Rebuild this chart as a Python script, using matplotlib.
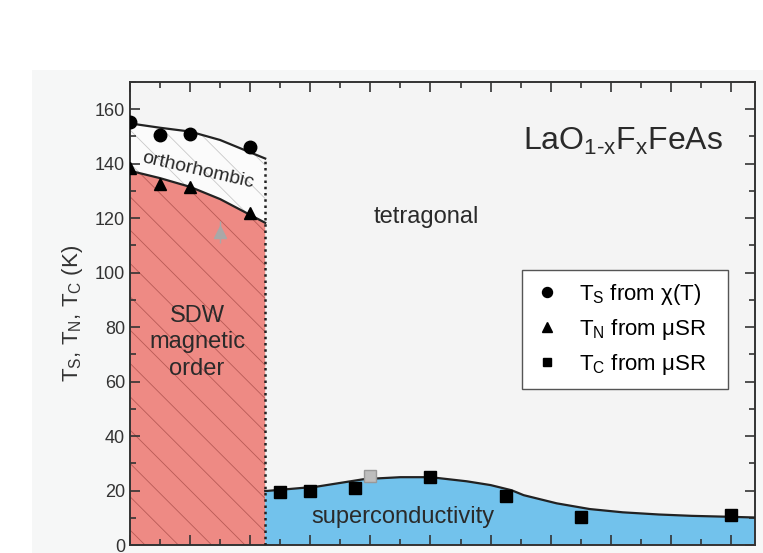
import matplotlib.pyplot as plt
from matplotlib.patches import Rectangle
from matplotlib.ticker import MultipleLocator

plt.rcParams['font.family'] = ['Liberation Sans', 'DejaVu Sans']
plt.rcParams['mathtext.fontset'] = 'custom'
plt.rcParams['mathtext.rm'] = 'Liberation Sans'
plt.rcParams['mathtext.it'] = 'Liberation Sans'
plt.rcParams['mathtext.default'] = 'regular'
plt.rcParams['hatch.linewidth'] = 0.6

# measured points
ts_x = [0.0, 0.01, 0.02, 0.04]
ts_T = [155.3, 150.5, 151.0, 146.0]
tn_x = [0.0, 0.01, 0.02, 0.04]
tn_T = [138.6, 132.7, 131.5, 122.0]
tn_gray_x = [0.03]
tn_gray_T = [115.0]
tn_gray_err = [4.0]
tc_x = [0.05, 0.06, 0.075, 0.10, 0.125, 0.15, 0.20]
tc_T = [19.5, 19.8, 20.8, 25.0, 18.1, 10.1, 11.0]
tc_gray_x = [0.08]
tc_gray_T = [25.3]

# phase boundary lines
ts_line_x = [0.0, 0.01, 0.02, 0.03, 0.045]
ts_line_T = [154.8, 153.2, 151.8, 148.7, 141.9]
tn_line_x = [0.0, 0.01, 0.02, 0.03, 0.045]
tn_line_T = [137.4, 134.7, 131.5, 127.0, 118.3]
tc_line_x = [0.045, 0.062, 0.078, 0.090, 0.100, 0.112, 0.120, 0.127, 0.131,
             0.142, 0.153, 0.164, 0.176, 0.187, 0.198, 0.208]
tc_line_T = [19.8, 21.4, 24.2, 24.9, 24.9, 23.4, 22.0, 20.1, 18.3,
             15.3, 13.2, 12.0, 11.2, 10.7, 10.4, 10.1]
x_border = 0.045

fig = plt.figure(figsize=(7.63, 5.53), dpi=100)
fig.patches.append(Rectangle((32 / 763, 0), 1, 1 - 70 / 553, transform=fig.transFigure,
                             facecolor='#f6f7f7', edgecolor='none', zorder=-10))
ax = fig.add_axes([130 / 763, 8 / 553, 625 / 763, 463 / 553])
ax.set_facecolor('#f4f4f4')

# SDW region
ax.fill_between(tn_line_x, 0, tn_line_T, facecolor='#ee8a84', edgecolor='#b85a56',
                hatch='\\', linewidth=0, zorder=1)
# orthorhombic region
ax.fill_between(ts_line_x, tn_line_T, ts_line_T, facecolor='#fbfbfb', edgecolor='#c8c8c8',
                hatch='\\', linewidth=0, zorder=1)
# superconducting region
ax.fill_between(tc_line_x, 0, tc_line_T, facecolor='#72c2ec', edgecolor='none', zorder=1)

ax.plot(ts_line_x, ts_line_T, color='#222222', lw=1.6, zorder=3)
ax.plot(tn_line_x, tn_line_T, color='#222222', lw=1.6, zorder=3)
ax.plot(tc_line_x, tc_line_T, color='#222222', lw=1.6, zorder=3)
ax.plot([x_border, x_border], [0, ts_line_T[-1]], color='#222222', lw=1.8,
        ls=(0, (1, 1.5)), zorder=3)

ax.plot(ts_x, ts_T, 'o', color='black', ms=9, ls='none', zorder=4, label=r'T$_S$ from χ(T)')
ax.plot(tn_x, tn_T, '^', color='black', ms=9, ls='none', zorder=4, label=r'T$_N$ from μSR')
ax.plot(tc_x, tc_T, 's', color='black', ms=8, ls='none', zorder=4, label=r'T$_C$ from μSR')
ax.errorbar(tn_gray_x, tn_gray_T, yerr=tn_gray_err, fmt='^', color='#a8a8a8', ms=9,
            elinewidth=1, capsize=0, zorder=4)
ax.plot(tc_gray_x, tc_gray_T, 's', mfc='#bdbdbd', mec='#999999', ms=8, zorder=4)

ax.set_xlim(0, 0.208)
ax.set_ylim(0, 170)
ax.xaxis.set_major_locator(MultipleLocator(0.02))
ax.xaxis.set_minor_locator(MultipleLocator(0.01))
ax.yaxis.set_major_locator(MultipleLocator(20))
ax.yaxis.set_minor_locator(MultipleLocator(10))
ax.tick_params(which='both', direction='in', top=True, right=True, width=1.2,
               colors='#333333', labelsize=13)
ax.tick_params(which='major', length=7)
ax.tick_params(which='minor', length=4)
ax.tick_params(axis='x', labelbottom=False)
for s in ax.spines.values():
    s.set_linewidth(1.4)
    s.set_color('#333333')

ax.set_ylabel(r'T$_S$, T$_N$, T$_C$ (K)', fontsize=16, color='#333333', labelpad=7)

ax.text(0.1973, 148, r'LaO$_{1\text{-}x}$F$_x$FeAs', fontsize=23, ha='right', va='center',
        color='#2a2a2a')
ax.text(0.0987, 120.5, 'tetragonal', fontsize=17, ha='center', va='center', color='#2a2a2a')
ax.text(0.0223, 74.5, 'SDW\nmagnetic\norder', fontsize=17, ha='center', va='center',
        color='#2a2a2a', linespacing=1.27)
ax.text(0.0226, 137.5, 'orthorhombic', fontsize=14, ha='center', va='center',
        rotation=-13, color='#2a2a2a')
ax.text(0.091, 10.3, 'superconductivity', fontsize=17, ha='center', va='center',
        color='#2a2a2a')

leg = ax.legend(loc='upper left', bbox_to_anchor=(0.627, 0.594 - 0.25, 0.33, 0.25),
                mode='expand', fontsize=16,
                frameon=True, fancybox=False, edgecolor='#555555', facecolor='white',
                framealpha=1, markerscale=0.8, handlelength=1.2, handletextpad=0.8,
                borderpad=0.55, labelspacing=0.45, borderaxespad=0)
leg.get_frame().set_linewidth(1.0)

fig.savefig('out.png', dpi=100)
